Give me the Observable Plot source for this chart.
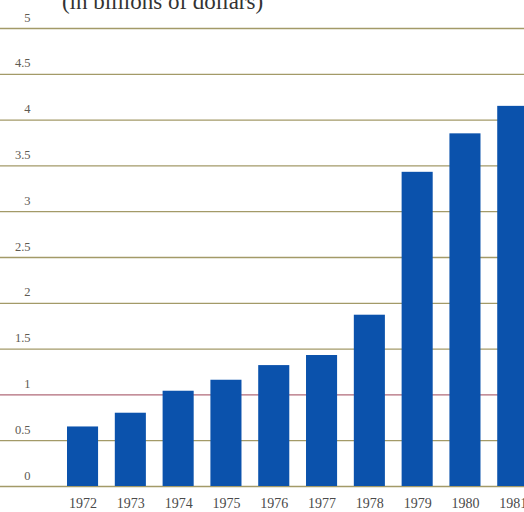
<!DOCTYPE html>
<html>
<head>
<meta charset="utf-8">
<script src="https://cdn.jsdelivr.net/npm/d3@7"></script>
<script src="https://cdn.jsdelivr.net/npm/@observablehq/plot@0.6"></script>
<style>
  html, body { margin: 0; padding: 0; background: #fff; overflow: hidden; }
  #chart { position: relative; width: 524px; height: 512px; overflow: hidden; }
</style>
</head>
<body>
<div id="chart"></div>
<script>
const years = ["1972", "1973", "1974", "1975", "1976", "1977", "1978", "1979", "1980", "1981"];
const values = [0.65, 0.80, 1.04, 1.16, 1.32, 1.43, 1.87, 3.43, 3.85, 4.15];
const yTicks = [0, 0.5, 1, 1.5, 2, 2.5, 3, 3.5, 4, 4.5, 5];
const yTickLabels = ["0", "0.5", "1", "1.5", "2", "2.5", "3", "3.5", "4", "4.5", "5"];
const title = "(in billions of dollars)";

const data = years.map((year, i) => ({year, value: values[i]}));
const ticks = yTicks.map((v, i) => ({v, label: yTickLabels[i]}));

const serif = "'Liberation Serif', 'DejaVu Serif', serif";

const chart = Plot.plot({
  width: 524,
  height: 512,
  marginTop: 28,
  marginBottom: 26,
  marginLeft: 0,
  marginRight: 0,
  style: {background: "#fff", fontFamily: serif, overflow: "visible"},
  x: {domain: years, range: [67, 528.3], paddingInner: 0.35, paddingOuter: 0, round: false, label: null},
  y: {domain: [0, 5], axis: null},
  marks: [
    Plot.ruleY(ticks, {y: "v", stroke: d => d.v === 1 ? "#b06a78" : "#a39a68", strokeWidth: 1.3}),
    Plot.barY(data, {x: "year", y: "value", fill: "#0b52ac"}),
    Plot.text(ticks, {
      y: "v", text: "label", frameAnchor: "left", dx: 30, dy: -11,
      textAnchor: "end", fill: "#5e5a52", fontSize: 12.5, fontFamily: serif,
      style: "letter-spacing: 1.8px"
    }),
    Plot.axisX({tickSize: 0, tickPadding: 12, fontSize: 14, fontFamily: serif, color: "#4a4a4a", label: null}),
    Plot.text([title], {
      frameAnchor: "top-left", dx: 162, dy: -20, textAnchor: "middle",
      lineAnchor: "bottom", fontSize: 23, fontFamily: serif, fill: "#333"
    })
  ]
});
document.getElementById("chart").appendChild(chart);
</script>
</body>
</html>
